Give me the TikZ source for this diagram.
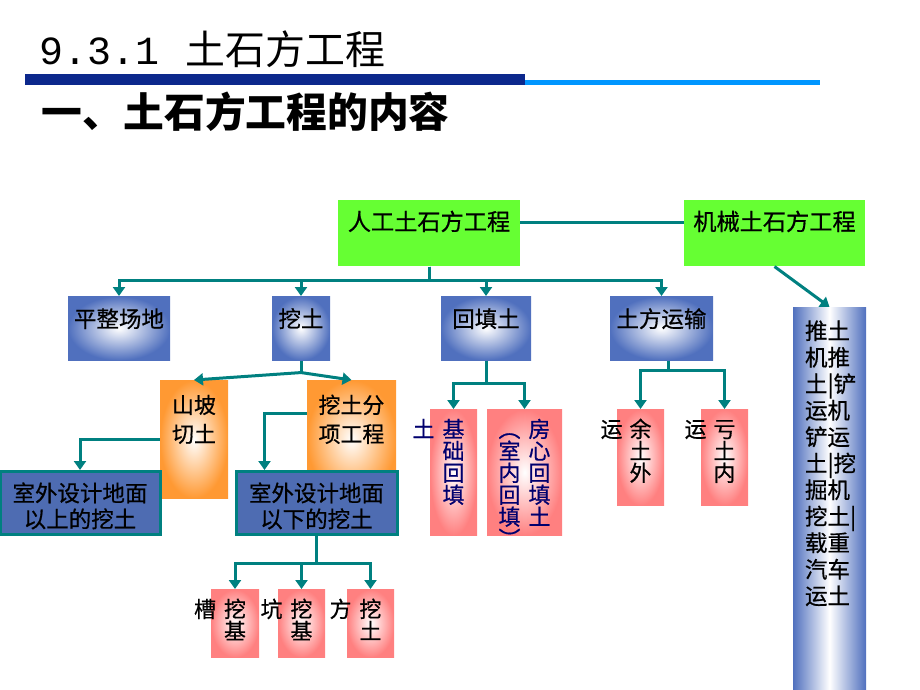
\documentclass[tikz,border=0pt]{standalone}
\usepackage{fontspec}
\setmainfont{Noto Sans CJK SC}
\newfontfamily\numfont{Liberation Mono}
\newfontfamily\boxfont{Noto Sans CJK SC}[FakeBold=0.6]
\usepackage{tikz}
\usetikzlibrary{arrows.meta}
\newlength{\pxu}
\setlength{\pxu}{0.025cm}
\definecolor{linkteal}{RGB}{0,128,128}
\definecolor{boxgreen}{RGB}{102,255,51}
\definecolor{boxblue}{RGB}{80,112,190}
\definecolor{deepblue}{RGB}{78,108,178}
\definecolor{boxorange}{RGB}{255,153,51}
\definecolor{boxpink}{RGB}{255,128,128}
\definecolor{textnavy}{RGB}{0,0,110}
\definecolor{bardark}{RGB}{12,40,140}
\definecolor{barlight}{RGB}{0,150,255}
\tikzstyle{box} = [rectangle, anchor=north, inner sep=0pt, align=center]
\tikzstyle{greenbox} = [box, fill=boxgreen, font=\boxfont\fontsize{16.5}{20}\selectfont]
\tikzstyle{bluebox} = [box, inner color=white, outer color=boxblue, font=\boxfont\fontsize{16}{20}\selectfont]
\tikzstyle{orangebox} = [box, inner color=white, outer color=boxorange, font=\boxfont\fontsize{15.6}{20.6}\selectfont]
\tikzstyle{tealbox} = [box, fill=deepblue, draw=linkteal, line width=3\pxu, font=\boxfont\fontsize{16}{18.5}\selectfont]
\tikzstyle{pinkbox} = [box, inner color=white, outer color=boxpink, font=\boxfont\fontsize{15.6}{15.6}\selectfont]
\tikzstyle{columnbox} = [box, align=left, left color=boxblue, right color=boxblue, middle color=white, font=\boxfont\fontsize{16}{18.85}\selectfont]
\tikzstyle{link} = [draw=linkteal, line width=0.075cm]
\tikzstyle{arrow} = [link, -{Triangle[length=0.225cm, width=0.3cm]}]
\tikzset{boxw/.style={minimum width=#1\pxu, text width=#1\pxu},
  boxh/.style 2 args={text height=#1\pxu, text depth=#2\pxu}}

\begin{document}
\begin{tikzpicture}[x=0.025cm, y=-0.025cm]
	\useasboundingbox (0,0) rectangle (920,690);
	% Title
	\node (title) [anchor=base west, font=\fontsize{28.4}{30}\selectfont] at (35,65) {{\numfont 9.3.1}\hspace{26\pxu}土石方工程};
	\fill [bardark] (25,74) rectangle (525,85);
	\fill [barlight] (525,80) rectangle (820,85);
	\node (subtitle) [anchor=base west, font=\fontsize{29}{30}\selectfont\bfseries] at (37,127) {一、土石方工程的内容};
	% Nodes
	\node (RG) [greenbox, boxw=182, boxh={30}{36}] at (429,200) {人工土石方工程};
	\node (JX) [greenbox, boxw=181, boxh={30}{36}] at (774.5,200) {机械土石方工程};
	\node (PZ) [bluebox, boxw=102, boxh={31}{33}] at (119,296) {平整场地};
	\node (WT) [bluebox, boxw=58, boxh={31}{33}] at (301,296) {挖土};
	\node (HT) [bluebox, boxw=90, boxh={31}{33}] at (486,296) {回填土};
	\node (TF) [bluebox, boxw=103, boxh={31}{33}] at (661.5,296) {土方运输};
	\node (SP) [orangebox, boxw=68, boxh={33}{85}] at (194,380) {山坡\\切土};
	\node (FX) [orangebox, boxw=89, boxh={33}{85}] at (351.5,380) {挖土分\\项工程};
	\node (SW1) [tealbox, boxw=160, boxh={30}{33}] at (80,470) {室外设计地面\\以上的挖土};
	\node (XX) [tealbox, boxw=161, boxh={30}{33}] at (316.5,470) {室外设计地面\\以下的挖土};
	\node (CWJ) [pinkbox, boxw=48, boxh={28}{40}] at (235,589) {\llap{槽\hspace{8\pxu}}挖\\基};
	\node (KWJ) [pinkbox, boxw=47, boxh={28}{40}] at (301.5,589) {\llap{坑\hspace{8\pxu}}挖\\基};
	\node (FWT) [pinkbox, boxw=47, boxh={28}{40}] at (370.5,589) {\llap{方\hspace{8\pxu}}挖\\土};
	\node (JC) [pinkbox, text=textnavy, boxw=47, boxh={28}{98}] at (453.5,409) {\llap{土\hspace{8\pxu}}基\\础\\回\\填};
	\node (FH) [pinkbox, text=textnavy, boxw=75, boxh={28}{98}] at (524.5,409) {︵\hspace{8\pxu}房\\室\hspace{8\pxu}心\\内\hspace{8\pxu}回\\回\hspace{8\pxu}填\\填\hspace{8\pxu}土\\︶\hspace{8\pxu}\phantom{土}};
	\node (YT) [pinkbox, boxw=47, boxh={28}{68}] at (640.5,409) {\llap{运\hspace{7\pxu}}余\\土\\外};
	\node (KT) [pinkbox, boxw=47, boxh={28}{68}] at (724.5,409) {\llap{运\hspace{7\pxu}}亏\\土\\内};
	\node (TJ) [columnbox, boxw=73, text width=49\pxu, inner xsep=12\pxu, boxh={32}{358}] at (829.5,307) {推土\\机推\\土|铲\\运机\\铲运\\土|挖\\掘机\\挖土|\\载重\\汽车\\运土};
	% Arrows
	\draw [link] ([yshift=11\pxu]RG.east) -- ([yshift=11\pxu]JX.west);
	\draw [arrow] (RG.south) |- ++(0,14) -| (PZ.north);
	\draw [arrow] (RG.south) |- ++(0,14) -| (WT.north);
	\draw [arrow] (RG.south) |- ++(0,14) -| (HT.north);
	\draw [arrow] (RG.south) |- ++(0,14) -| (TF.north);
	\draw [arrow] (JX.south) -- (TJ.north);
	\draw [link] (WT.south) -- ++(0,12) coordinate (WS);
	\draw [arrow] (WS) -- (SP.north);
	\draw [arrow] (WS) -- (FX.north);
	\draw [arrow] (SP.west) -| (SW1.north);
	\draw [arrow] ([yshift=26\pxu]FX.west) -| ([xshift=-52\pxu]XX.north);
	\draw [arrow] (XX.south) |- ++(0,27) -| (CWJ.north);
	\draw [arrow] (XX.south) |- ++(0,27) -| (KWJ.north);
	\draw [arrow] (XX.south) |- ++(0,27) -| (FWT.north);
	\draw [arrow] (HT.south) |- ++(0,23) -| (JC.north);
	\draw [arrow] (HT.south) |- ++(0,23) -| (FH.north);
	\draw [arrow] ([xshift=7\pxu]TF.south) |- ++(0,10) -| (YT.north);
	\draw [arrow] ([xshift=7\pxu]TF.south) |- ++(0,10) -| (KT.north);
\end{tikzpicture}
\end{document}
